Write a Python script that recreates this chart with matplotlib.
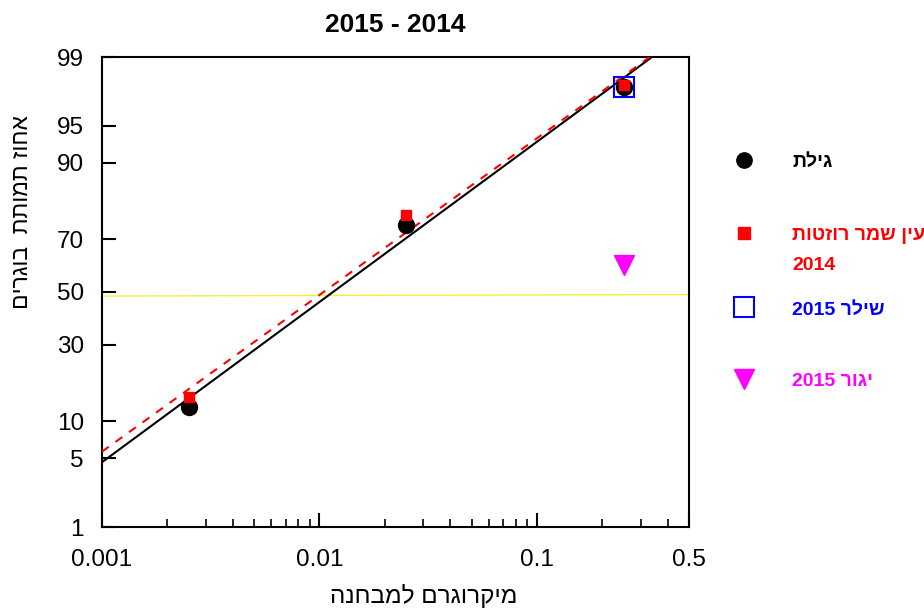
import numpy as np
import matplotlib
matplotlib.use("Agg")
import matplotlib.pyplot as plt
from matplotlib.lines import Line2D
from matplotlib.ticker import FixedLocator, NullFormatter, LogLocator
from statistics import NormalDist

plt.rcParams['font.family'] = ['Liberation Sans', 'DejaVu Sans']

# ---------------- data ----------------
doses = [0.0025, 0.025, 0.25]
gilat_pct = [12.7, 74.6, 97.9]
ein_shemer_pct = [14.9, 77.7, 98.0]
shiler_dose = [0.25]
shiler_pct = [97.9]
yagur_dose = [0.25]
yagur_pct = [60.5]

gilat_fit_x = [0.001, 0.338]
gilat_fit_pct = [4.6, 99.0]
ein_fit_x = [0.001, 0.33]
ein_fit_pct = [5.7, 99.0]

ref_x = [0.001, 0.5]
ref_pct = [48.4, 49.0]

y_ticks = [1, 5, 10, 30, 50, 70, 90, 95, 99]
x_ticks = [0.001, 0.01, 0.1, 0.5]
x_tick_labels = ['0.001', '0.01', '0.1', '0.5']

title = '2015 - 2014'
xlabel = 'מיקרוגרם למבחנה'
ylabel = 'אחוז תמותת  בוגרים'
legend_labels = ['גילת', 'עין שמר רוזטות\n2014', 'שילר 2015', 'יגור 2015']
legend_colors = ['black', 'red', '#0000ff', '#ff00ff']


def visual(s):
    """Convert logical-order RTL text into visual order (simple bidi)."""
    out_lines = []
    for line in s.split('\n'):
        toks = line.split(' ')
        res = []
        for t in reversed(toks):
            if any('\u0590' <= c <= '\u05ff' for c in t):
                res.append(t[::-1])
            else:
                res.append(t)
        out_lines.append(' '.join(res))
    return '\n'.join(out_lines)


_nd = NormalDist()
_ppf = np.vectorize(_nd.inv_cdf, otypes=[float])
_cdf = np.vectorize(_nd.cdf, otypes=[float])


def fwd(p):
    p = np.asarray(p, dtype=float)
    q = np.clip(p / 100.0, 1e-9, 1 - 1e-9)
    return _ppf(q)


def inv(z):
    z = np.asarray(z, dtype=float)
    return _cdf(z) * 100.0


fig = plt.figure(figsize=(9.24, 6.08), dpi=100)
ax = fig.add_axes([102 / 924, 1 - 527 / 608, (689 - 102) / 924, (527 - 57) / 608])
ax.set_xscale('log')
ax.set_yscale('function', functions=(fwd, inv))
ax.set_xlim(0.001, 0.5)
ax.set_ylim(1, 99)

ax.plot(ref_x, ref_pct, color='#f2f23a', lw=1.0, zorder=1)
ax.plot(gilat_fit_x, gilat_fit_pct, color='black', lw=1.5, zorder=2)
ax.plot(ein_fit_x, ein_fit_pct, color='red', lw=1.5, dashes=(4, 4), zorder=3)

ax.plot(shiler_dose, shiler_pct, 's', ms=15, mfc='none', mec='#0000ff', mew=1.5, zorder=4, clip_on=False)
ax.plot(doses, gilat_pct, 'o', ms=11.5, color='black', zorder=5, clip_on=False)
ax.plot(doses, ein_shemer_pct, 's', ms=7.5, color='red', mec='red', zorder=6, clip_on=False)
ax.plot(yagur_dose, yagur_pct, 'v', ms=14, color='#ff00ff', mec='#ff00ff', zorder=6)

ax.yaxis.set_major_locator(FixedLocator(y_ticks))
ax.set_yticklabels([str(t) for t in y_ticks])
ax.yaxis.set_minor_locator(FixedLocator([]))
ax.xaxis.set_major_locator(FixedLocator(x_ticks))
ax.set_xticklabels(x_tick_labels)
ax.xaxis.set_minor_locator(LogLocator(base=10, subs=np.arange(2, 10)))
ax.xaxis.set_minor_formatter(NullFormatter())

ax.tick_params(axis='both', which='major', direction='in', length=10, width=1.5,
               labelsize=17.5, pad=13, top=False, right=False)
ax.tick_params(axis='x', which='minor', direction='in', length=6, width=1.2,
               top=False)
ax.tick_params(axis='x', which='major', pad=16)
for sp in ax.spines.values():
    sp.set_linewidth(1.5)

fig.text(395 / 924, 1 - 25 / 608, title, ha='center', va='center',
         fontsize=19, fontweight='bold')
fig.text(424 / 924, 1 - 596 / 608, visual(xlabel), ha='center', va='center',
         fontsize=17.5)
fig.text(22 / 924, 1 - 212 / 608, visual(ylabel), rotation=90, ha='center',
         va='center', fontsize=16.5)

# custom legend
mk_x = 744 / 924
mk_y = [160, 233, 307, 379]
styles = [dict(marker='o', ms=11, color='black', mfc='black', mec='black'),
          dict(marker='s', ms=9, color='red', mfc='red', mec='red'),
          dict(marker='s', ms=14.5, color='#0000ff', mfc='none', mec='#0000ff', mew=1.5),
          dict(marker='v', ms=15, color='#ff00ff', mfc='#ff00ff', mec='#ff00ff')]
for py, st in zip(mk_y, styles):
    fig.add_artist(Line2D([mk_x], [1 - py / 608], linestyle='none',
                          transform=fig.transFigure, **st))

txt_y = [162, 236, 310, 382]
for lab, col, py in zip(legend_labels, legend_colors, txt_y):
    lines = visual(lab).split('\n')
    for i, ln in enumerate(lines):
        fig.text(792 / 924, 1 - (py + i * 29) / 608, ln, ha='left', va='center',
                 color=col, fontsize=14, fontweight='bold')

fig.savefig('out.png', dpi=100)
